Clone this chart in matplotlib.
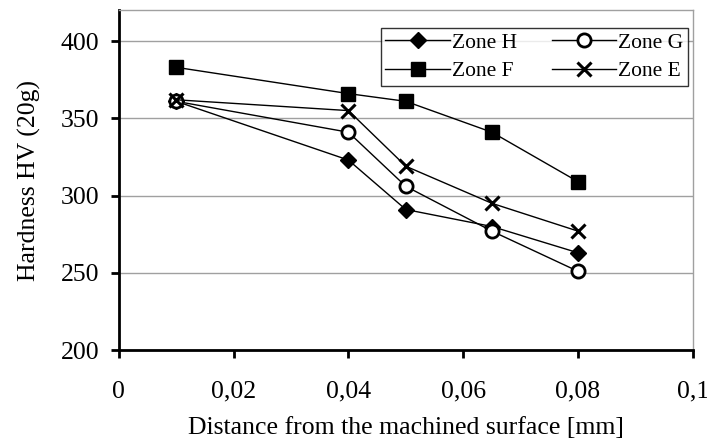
import numpy as np
import matplotlib.pyplot as plt
from matplotlib.ticker import FuncFormatter

plt.rcParams['font.family'] = ['Liberation Serif', 'DejaVu Serif']

distance = [0.01, 0.04, 0.05, 0.065, 0.08]
zone_h = [361, 323, 291, 280, 263]
zone_g = [361, 341, 306, 277, 251]
zone_f = [383, 366, 361, 341, 309]
zone_e = [362, 355, 319, 295, 277]

fig = plt.figure(figsize=(7.07, 4.41), dpi=100)
ax = fig.add_axes([0.168, 0.206, 0.812, 0.771])

lh, = ax.plot(distance, zone_h, color='black', lw=1, marker='D', ms=8.5, mfc='black', label='Zone H')
lg, = ax.plot(distance, zone_g, color='black', lw=1, marker='o', ms=9.5, mfc='white', mew=2, label='Zone G')
lf, = ax.plot(distance, zone_f, color='black', lw=1, marker='s', ms=10, mfc='black', label='Zone F')
le, = ax.plot(distance, zone_e, color='black', lw=1, marker='x', ms=10, mew=2.2, label='Zone E')

ax.set_xlim(0, 0.1)
ax.set_ylim(200, 420)
ax.set_xticks([0, 0.02, 0.04, 0.06, 0.08, 0.1])
ax.set_yticks([200, 250, 300, 350, 400])
ax.xaxis.set_major_formatter(FuncFormatter(lambda v, p: f"{v:g}".replace('.', ',')))
ax.yaxis.grid(True, color='#a0a0a0', lw=1)
ax.set_axisbelow(True)

for s in ['top', 'right']:
    ax.spines[s].set_color('#a0a0a0')
    ax.spines[s].set_linewidth(1)
for s in ['left', 'bottom']:
    ax.spines[s].set_linewidth(2)
ax.tick_params(axis='both', direction='out', length=6, width=2, labelsize=18.5)
ax.tick_params(axis='x', pad=16)
ax.tick_params(axis='y', pad=8)

ax.set_xlabel('Distance from the machined surface [mm]', fontsize=18.5, labelpad=10)
ax.set_ylabel('Hardness HV (20g)', fontsize=18.5, labelpad=14)

# row-wise order: H, G / F, E
leg = ax.legend([lh, lf, lg, le], ['Zone H', 'Zone F', 'Zone G', 'Zone E'], ncol=2,
                loc='upper right', bbox_to_anchor=(0.991, 0.947), borderaxespad=0,
                fontsize=15.5, frameon=True, fancybox=False, edgecolor='black',
                handlelength=3, columnspacing=1.6, borderpad=0.2, labelspacing=0.4,
                handletextpad=0.1)
leg.get_frame().set_linewidth(1)

plt.savefig('out.png', dpi=100)
